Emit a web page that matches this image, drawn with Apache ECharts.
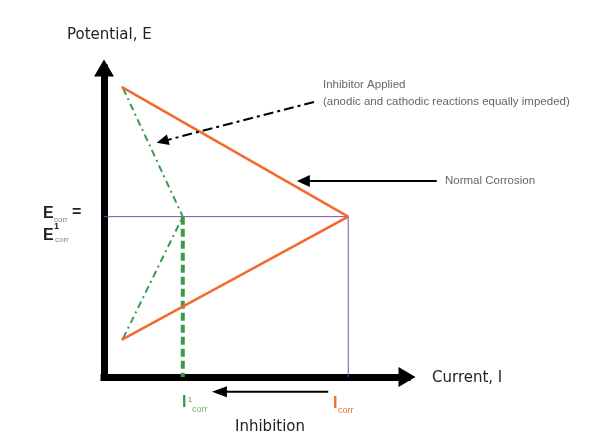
<!DOCTYPE html>
<html>
<head>
<meta charset="utf-8">
<script src="https://cdn.jsdelivr.net/npm/echarts@6/dist/echarts.min.js"></script>
<style>
html,body{margin:0;padding:0;background:#fff;}
#chart{width:592px;height:436px;}
</style>
</head>
<body>
<div id="chart"></div>
<script>
// ---- data (arbitrary units) ----
const currentRange = [0, 100];
const potentialRange = [0, 100];
const annotCurrentRange = [0, 120];   // wider hidden axes for annotation arrows
const annotPotentialRange = [-10, 100];
const Ecorr = 51.9;
const Icorr = 80.6;
const Icorr1 = 26.0;
const normalAnodic = [[5.8, 93.9], [Icorr, Ecorr]];
const normalCathodic = [[5.8, 12.0], [Icorr, Ecorr]];
const inhibitedAnodic = [[6.3, 93.4], [Icorr1, Ecorr]];
const inhibitedCathodic = [[6.3, 12.5], [Icorr1, Ecorr]];
const ecorrGuide = [[0, Ecorr], [Icorr, Ecorr], [Icorr, 0]];
const icorr1Guide = [[Icorr1, Ecorr], [Icorr1, 0]];
// annotation arrows: [tail, head]
const inhibitorArrow = [[69.3, 89.0], [19.3, 76.3]];
const normalArrow = [[109.8, 63.4], [65.8, 63.4]];
const inhibitionArrow = [[74.0, -4.75], [38.1, -4.75]];
const labels = {
  yName: 'Potential, E',
  xName: 'Current, I',
  inhibition: 'Inhibition',
  inhibitor1: 'Inhibitor Applied',
  inhibitor2: '(anodic and cathodic reactions equally impeded)',
  normal: 'Normal Corrosion'
};

const ORANGE = '#f26a2e', GREEN = '#3a9a4c', PURPLE = '#7b4fb3';
const PX_X = 3.03, PX_Y = 3.09;   // pixels per unit of the main grid
const chart = echarts.init(document.getElementById('chart'), null, {renderer: 'canvas'});

function axis(range, gridIndex) {
  return {
    type: 'value', min: range[0], max: range[1], gridIndex: gridIndex,
    splitLine: {show: false}, axisTick: {show: false}, axisLabel: {show: false},
    axisLine: {show: true, onZero: false, symbol: ['none', 'triangle'], symbolSize: [20, 17],
      lineStyle: {color: '#000', width: 7, cap: 'square'}}
  };
}
function hiddenAxis(range, gridIndex) {
  return {type: 'value', min: range[0], max: range[1], gridIndex: gridIndex, show: false,
    splitLine: {show: false}, axisLine: {show: false}};
}
function arrowSeries(pts, type, size, rotate) {
  return {
    type: 'line', clip: false, silent: true, z: 4, xAxisIndex: 1, yAxisIndex: 1,
    symbol: 'triangle', symbolSize: size, symbolRotate: rotate, showAllSymbol: true,
    itemStyle: {color: '#000'},
    lineStyle: {color: '#000', width: 2, type: type},
    emphasis: {disabled: true},
    data: [{value: pts[0], symbol: 'none'}, {value: pts[1]}]
  };
}
const txt = (x, y, text, size, color, weight, family) => ({
  type: 'text', x: x, y: y, silent: true,
  style: {text: text, fill: color, font: (weight || 'normal') + ' ' + size + 'px ' + (family || '"DejaVu Sans"'), verticalAlign: 'middle', align: 'left'}
});

const gLeft = 104, gTop = 68, gW = 100 * PX_X, gH = 100 * PX_Y;
const aW = (annotCurrentRange[1] - annotCurrentRange[0]) * PX_X;
const aH = (annotPotentialRange[1] - annotPotentialRange[0]) * PX_Y;
const option = {
  backgroundColor: '#fff',
  animation: false,
  grid: [
    {left: gLeft, top: gTop, width: gW, height: gH},
    {left: gLeft, top: gTop, width: aW, height: aH}
  ],
  xAxis: [axis(currentRange, 0), hiddenAxis(annotCurrentRange, 1)],
  yAxis: [axis(potentialRange, 0), hiddenAxis(annotPotentialRange, 1)],
  series: [
    {type: 'line', data: ecorrGuide, symbol: 'none', clip: false, lineStyle: {color: PURPLE, width: 1}, z: 1},
    {type: 'line', data: icorr1Guide, symbol: 'none', clip: false, lineStyle: {color: GREEN, width: 4, type: [8, 4]}, z: 2},
    {type: 'line', data: inhibitedAnodic, symbol: 'none', clip: false, lineStyle: {color: GREEN, width: 2, type: [7, 4, 2, 4]}, z: 2},
    {type: 'line', data: inhibitedCathodic, symbol: 'none', clip: false, lineStyle: {color: GREEN, width: 2, type: [7, 4, 2, 4]}, z: 2},
    {type: 'line', data: normalAnodic, symbol: 'none', clip: false, lineStyle: {color: ORANGE, width: 2.5}, z: 3},
    {type: 'line', data: normalCathodic, symbol: 'none', clip: false, lineStyle: {color: ORANGE, width: 2.5}, z: 3},
    arrowSeries(inhibitorArrow, [10, 4, 3, 4], [11, 12], 104.7),
    arrowSeries(normalArrow, 'solid', [12, 13], 90),
    arrowSeries(inhibitionArrow, 'solid', [11, 15], 90)
  ],
  graphic: [
    txt(67, 35, labels.yName, 15, '#222'),
    txt(432, 378, labels.xName, 15, '#222'),
    txt(235, 427, labels.inhibition, 15, '#222'),
    txt(323, 85, labels.inhibitor1, 11.5, '#666', 'normal', '"Liberation Sans"'),
    txt(323, 102, labels.inhibitor2, 11.5, '#666', 'normal', '"Liberation Sans"'),
    txt(445, 181, labels.normal, 11.5, '#666', 'normal', '"Liberation Sans"'),
    txt(43, 214, 'E', 16, '#222', 'bold', '"Liberation Sans"'),
    txt(54, 220, 'corr', 8, '#888', 'normal', '"Liberation Sans"'),
    txt(72, 213, '=', 16, '#222', 'bold', '"Liberation Sans"'),
    txt(43, 236, 'E', 16, '#222', 'bold', '"Liberation Sans"'),
    txt(54, 227, '1', 9, '#222', 'bold', '"Liberation Sans"'),
    txt(55, 240, 'corr', 8, '#888', 'normal', '"Liberation Sans"'),
    txt(182, 403, 'I', 16, GREEN, 'bold', '"Liberation Sans"'),
    txt(188, 400, '1', 7, GREEN, 'normal', '"Liberation Sans"'),
    txt(192, 410, 'corr', 9, '#6cb86c', 'normal', '"Liberation Sans"'),
    txt(333, 404, 'I', 16, ORANGE, 'bold', '"Liberation Sans"'),
    txt(338, 411, 'corr', 9, ORANGE, 'normal', '"Liberation Sans"')
  ]
};
chart.setOption(option);
</script>
</body>
</html>
